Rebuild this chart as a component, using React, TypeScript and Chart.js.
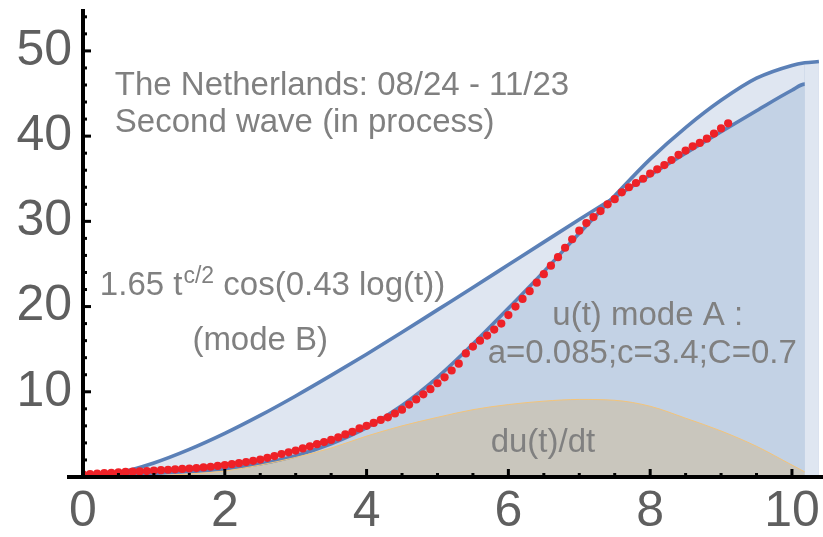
import React, { useEffect, useRef } from 'react';
import { Chart, registerables } from 'chart.js';

Chart.register(...registerables);

// ---- data ----
const modeAT = [0, 0.5, 1, 1.5, 2, 2.5, 3, 3.5, 4, 4.5, 5, 5.5, 6, 6.5, 7, 7.5, 8, 8.5, 9, 9.5, 10, 10.18, 10.38];
const modeAV = [0, 0.25, 0.45, 0.65, 0.95, 1.55, 2.5, 3.9, 5.8, 8.4, 11.7, 15.6, 19.8, 24.1, 28.6, 33.0, 37.3, 41.0, 44.2, 46.8, 48.3, 48.6, 48.75];

const modeBT = [0, 0.5, 1, 1.5, 2, 2.5, 3, 3.5, 4, 4.5, 5, 5.5, 6, 6.5, 7, 7.5, 8, 8.5, 9, 9.5, 10, 10.18, 10.19, 10.38];
const modeBV = [0, 0.49, 1.65, 3.24, 5.12, 7.23, 9.51, 11.92, 14.41, 16.98, 19.61, 22.24, 24.9, 27.56, 30.21, 32.83, 35.44, 38.0, 40.52, 42.98, 45.38, 46.1, 0, 0];

const duT = [0, 0.5, 1, 1.5, 2, 2.5, 3, 3.5, 4, 4.5, 5, 5.5, 6, 6.5, 7, 7.5, 8, 8.5, 9, 9.5, 10, 10.18];
const duV = [0, 0.05, 0.15, 0.35, 0.7, 1.4, 2.3, 3.4, 4.8, 6.0, 7.0, 7.9, 8.5, 8.9, 9.1, 9.0, 8.3, 6.9, 5.4, 3.6, 1.4, 0.6];

// daily observations, one every 0.1 time unit starting at t = 0
const dotStep = 0.1;
const dotV = [
  0.3, 0.35, 0.4, 0.45, 0.5, 0.55, 0.6, 0.62, 0.65, 0.7,
  0.75, 0.8, 0.85, 0.9, 0.95, 1.0, 1.05, 1.12, 1.2, 1.3,
  1.4, 1.5, 1.62, 1.75, 1.9, 2.05, 2.25, 2.45, 2.7, 2.9,
  3.1, 3.35, 3.6, 3.85, 4.1, 4.35, 4.65, 5.0, 5.3, 5.7,
  6.0, 6.35, 6.7, 7.0, 7.45, 7.9, 8.5, 9.1, 9.7, 10.3,
  11.0, 11.7, 12.5, 13.3, 14.5, 15.3, 16.0, 16.6, 17.3, 18.0,
  19.0, 20.0, 20.9, 21.8, 22.8, 23.8, 24.8, 25.8, 26.9, 27.9,
  28.9, 29.8, 30.5, 31.2, 32.0, 32.6, 33.4, 34.0, 34.5, 35.0,
  35.6, 36.1, 36.6, 37.2, 37.8, 38.3, 38.8, 39.2, 39.7, 40.3,
  40.9, 41.5,
];

const xTickLabels = ['0', '2', '4', '6', '8', '10'];
const yTickLabels = ['10', '20', '30', '40', '50'];

const notes = [
  { text: 'The Netherlands: 08/24 - 11/23', x: 0.449, y: 44.84 },
  { text: 'Second wave (in process)', x: 0.449, y: 40.49 },
  { text: '(mode B)', x: 1.543, y: 14.91 },
  { text: 'u(t) mode A :', x: 6.62, y: 17.84 },
  { text: 'a=0.085;c=3.4;C=0.7', x: 5.708, y: 13.38 },
  { text: 'du(t)/dt', x: 5.75, y: 2.93 },
];
const formula = { pre: '1.65 t', sup: 'c/2', post: ' cos(0.43 log(t))', x: 0.238, y: 21.36 };

const BLUE = '#5b80b7';
const LIGHT = '#dfe6f1';
const DARK = '#c3d2e5';
const BEIGE = '#c9c6bd';
const RED = '#ee2127';
const FONT = '"Liberation Sans", Arial, sans-serif';

const pairs = (t: number[], v: number[]) => t.map((x, i) => ({ x, y: v[i] }));

const decor = {
  id: 'decor',
  afterDatasetsDraw(chart: any) {
    const { ctx, chartArea } = chart;
    const xs = chart.scales.x;
    const ys = chart.scales.y;
    ctx.save();
    // annotations
    ctx.fillStyle = '#808080';
    ctx.textAlign = 'left';
    ctx.textBaseline = 'alphabetic';
    ctx.font = `33px ${FONT}`;
    for (const n of notes) {
      ctx.fillText(n.text, xs.getPixelForValue(n.x), ys.getPixelForValue(n.y));
    }
    let fx = xs.getPixelForValue(formula.x);
    const fy = ys.getPixelForValue(formula.y);
    ctx.font = `33px ${FONT}`;
    ctx.fillText(formula.pre, fx, fy);
    fx += ctx.measureText(formula.pre).width;
    ctx.font = `23px ${FONT}`;
    ctx.fillText(formula.sup, fx + 1, fy - 12);
    fx += ctx.measureText(formula.sup).width + 1;
    ctx.font = `33px ${FONT}`;
    ctx.fillText(formula.post, fx, fy);

    // axes
    ctx.fillStyle = '#000';
    const x0 = xs.getPixelForValue(0);
    const y0 = ys.getPixelForValue(0);
    ctx.fillRect(x0 - 2, chartArea.top - 1, 4, y0 - chartArea.top + 3);
    ctx.fillRect(x0 - 16, y0 - 2, chartArea.right - x0 + 30, 4);
    // y ticks (major every 10, minor every 2)
    for (let v = 2; v <= ys.max; v += 2) {
      const py = ys.getPixelForValue(v);
      const len = v % 10 === 0 ? 8 : 4;
      ctx.fillRect(x0, py - 1.5, len, 3);
    }
    // x ticks (major every 2, minor every 0.5)
    for (let k = 1; k * 0.5 <= xs.max; k++) {
      const v = k * 0.5;
      const px = xs.getPixelForValue(v);
      const len = k % 4 === 0 ? 8 : 4;
      ctx.fillRect(px - 1.5, y0 - len, 3, len);
    }
    ctx.restore();
  },
};

export default function App() {
  const ref = useRef<HTMLCanvasElement>(null);
  useEffect(() => {
    const canvas = ref.current!;
    const chart = new Chart(canvas, {
      type: 'line',
      data: {
        datasets: [
          {
            label: 'data',
            data: dotV.map((v, i) => ({ x: i * dotStep, y: v })),
            showLine: false,
            pointRadius: 4.1,
            pointBackgroundColor: RED,
            pointBorderWidth: 0,
            borderColor: RED,
            fill: false,
          },
          {
            label: 'du/dt',
            data: pairs(duT, duV),
            borderColor: '#f3c47a',
            borderWidth: 1,
            backgroundColor: BEIGE,
            fill: 'origin',
            pointRadius: 0,
            cubicInterpolationMode: 'monotone',
          },
          {
            label: 'mode B',
            data: pairs(modeBT, modeBV),
            borderColor: BLUE,
            borderWidth: 3.6,
            backgroundColor: LIGHT,
            fill: 3,
            pointRadius: 0,
            cubicInterpolationMode: 'monotone',
            segment: {
              borderColor: (c: any) => (c.p0DataIndex >= modeBT.length - 3 ? 'rgba(0,0,0,0)' : BLUE),
            },
          },
          {
            label: 'mode A',
            data: pairs(modeAT, modeAV),
            borderColor: BLUE,
            borderWidth: 3.6,
            backgroundColor: DARK,
            fill: 'origin',
            pointRadius: 0,
            cubicInterpolationMode: 'monotone',
          },
        ] as any,
      },
      options: {
        animation: false,
        responsive: false,
        devicePixelRatio: 1,
        layout: { padding: { top: 10, left: 0, right: 0, bottom: 0 } },
        plugins: {
          legend: { display: false },
          tooltip: { enabled: false },
          filler: { drawTime: 'beforeDatasetsDraw' } as any,
        },
        scales: {
          x: {
            type: 'linear',
            min: 0,
            max: 10.38,
            grid: { display: false, drawTicks: false },
            border: { display: false },
            afterFit: (s: any) => {
              s.height = 60;
              s.paddingLeft = 0;
              s.paddingRight = 0;
            },
            ticks: {
              stepSize: 2,
              includeBounds: false,
              padding: 5,
              color: '#5f5f5f',
              font: { size: 50, family: FONT },
              maxRotation: 0,
              callback: (v: any) => {
                const i = xTickLabels.indexOf(String(v));
                return i >= 0 ? xTickLabels[i] : '';
              },
            },
          },
          y: {
            type: 'linear',
            min: 0,
            max: 54.8,
            grid: { display: false, drawTicks: false },
            border: { display: false },
            afterFit: (s: any) => {
              s.width = 83;
              s.paddingTop = 0;
              s.paddingBottom = 0;
            },
            ticks: {
              stepSize: 10,
              includeBounds: false,
              padding: 11,
              color: '#5f5f5f',
              font: { size: 50, family: FONT },
              callback: (v: any) => {
                const i = yTickLabels.indexOf(String(v));
                return i >= 0 ? yTickLabels[i] : '';
              },
            },
          },
        },
      },
      plugins: [decor],
    });
    return () => chart.destroy();
  }, []);
  return (
    <div style={{ position: 'fixed', left: 0, top: 0, width: 823, height: 537, overflow: 'hidden', background: '#fff' }}>
      <canvas ref={ref} width={823} height={537} style={{ display: 'block' }} />
    </div>
  );
}
